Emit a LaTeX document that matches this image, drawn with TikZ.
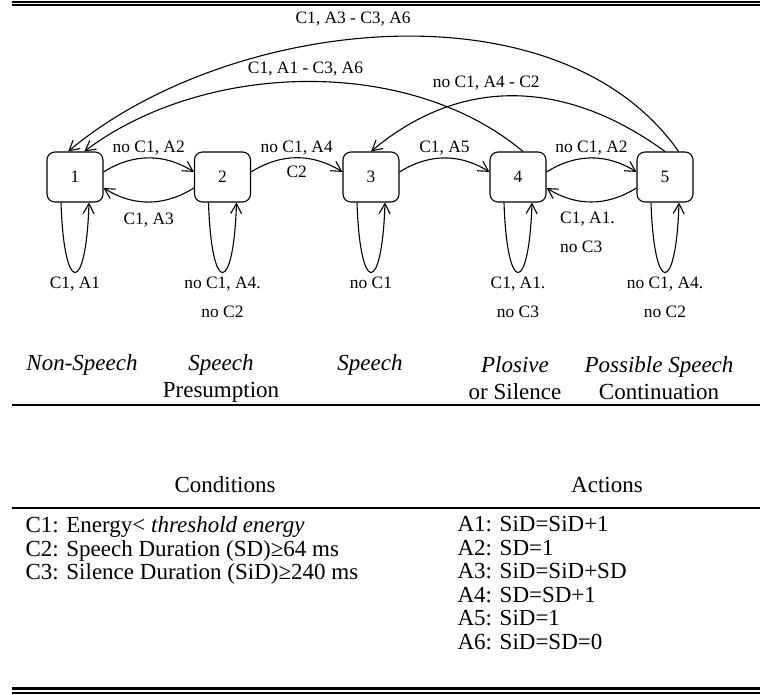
\documentclass[tikz,border=0pt]{standalone}
\usepackage{fontspec}
\setmainfont{Liberation Serif}
\usetikzlibrary{arrows.meta}

\begin{document}
\begin{tikzpicture}[x=0.5pt,y=0.5pt,line width=0.55pt,
    >={Straight Barb[length=5pt,width=5.5pt]},
    state/.style={draw,rounded corners=4pt,minimum width=28pt,minimum height=25pt,inner sep=0pt,font=\fontsize{8.7}{10}\selectfont},
    lbl/.style={inner sep=1pt,font=\fontsize{8.7}{14.5}\selectfont,align=center},
    txt/.style={inner sep=0pt,font=\fontsize{11.5}{11.75}\selectfont},
    cat/.style={inner sep=0pt,align=center,font=\fontsize{11.5}{13.5}\selectfont}]
  \useasboundingbox (0,0) rectangle (760,-695);
  \draw[line width=0.85pt] (12,-1.7) -- (760,-1.7);
  \draw[line width=1.15pt] (12,-4.8) -- (760,-4.8);
  \foreach \i/\x in {1/75,2/222.5,3/371,4/518,5/665}
    \node[state] (s\i) at (\x,-177) {\i};
  \foreach \a/\b/\t in {1/2/{no C1, A2},3/4/{C1, A5},4/5/{no C1, A2}}
    \draw[->] (s\a.10) to[bend left=32] node[lbl,above]{\t} (s\b.170);
  \draw[->] (s2.10) to[bend left=32] node[lbl,above]{no C1, A4} node[lbl,below=3pt]{C2} (s3.170);
  \draw[->] (s2.201) to[bend left=32] node[lbl,below=4pt]{C1, A3} (s1.-21);
  \draw[->] (s5.201) to[bend left=32] node[lbl,below=4pt,align=left,xshift=-2pt]{C1, A1.\\no C3} (s4.-21);
  \foreach \i/\t in {1/{C1, A1},2/{no C1, A4.\\no C2},3/{no C1},4/{C1, A1.\\no C3},5/{no C1, A4.\\no C2}}
    \draw[->] ([xshift=-7pt]s\i.south) .. controls +(3,-93) and +(-3,-93) .. ([xshift=7pt]s\i.south)
      node[lbl,midway,below=1pt]{\t};
  \draw[->] (s5.62) to[out=125,in=40,looseness=0.88] node[lbl,pos=0.55,above=5pt]{C1, A3 - C3, A6} (s1.105);
  \draw[->] (s4.79) to[out=140,in=37,looseness=0.875] node[lbl,midway,above=1.5pt]{C1, A1 - C3, A6} (s1.70);
  \draw[->] (s5.north) to[out=144,in=40,looseness=1.05] node[lbl,pos=0.6,above=2.5pt]{no C1, A4 - C2} (s3.north);
  \node[cat] (ns) at (82,-365) {\textit{Non-Speech}};
  \node[cat] (sp) at (221,-378.5) {\textit{Speech}\\Presumption};
  \node[cat] (sh) at (370,-365) {\textit{Speech}};
  \node[cat] (pl) at (515,-378.5) {\textit{Plosive}\\or Silence};
  \node[cat] (ps) at (659,-378.5) {\textit{Possible Speech}\\Continuation};
  \draw[line width=1pt] (12,-405) -- (760,-405);
  \node[txt] (cond) at (225,-485) {Conditions};
  \node[txt] (act) at (607,-485) {Actions};
  \draw[line width=1pt] (12,-508) -- (760,-508);
  \node[txt,align=left,anchor=north west] (clist) at (25,-516)
    {C1: Energy< \textit{threshold energy}\\C2: Speech Duration (SD)≥64 ms\\C3: Silence Duration (SiD)≥240 ms};
  \node[txt,align=left,anchor=north west] (alist) at (457,-516)
    {A1: SiD=SiD+1\\A2: SD=1\\A3: SiD=SiD+SD\\A4: SD=SD+1\\A5: SiD=1\\A6: SiD=SD=0};
  \draw[line width=1.15pt] (12,-688.5) -- (760,-688.5);
  \draw[line width=0.85pt] (12,-693.3) -- (760,-693.3);
\end{tikzpicture}
\end{document}
